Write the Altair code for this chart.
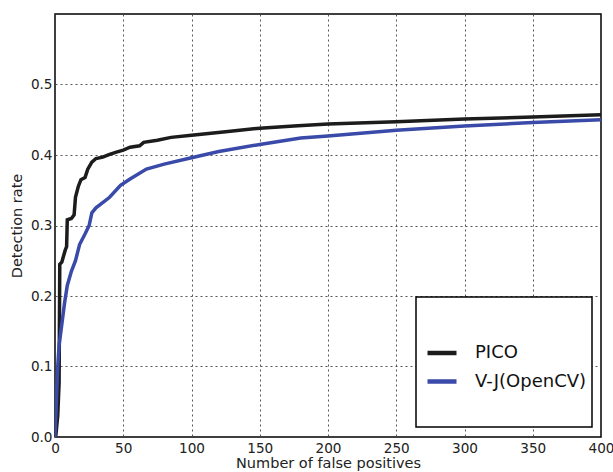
import altair as alt
import pandas as pd

# PICO curve
pico_fp = [0.5, 2, 3, 3.2, 3.5, 5, 6, 7.5, 8.5, 9, 12, 14, 15, 17, 19, 22, 24, 27, 30, 35,
           40, 45, 50, 55, 62, 65, 75, 85, 100, 125, 150, 175, 200, 250, 300, 350, 400]
pico_dr = [0.0, 0.03, 0.077, 0.15, 0.245, 0.248, 0.255, 0.265, 0.27, 0.308, 0.31, 0.315, 0.34,
           0.355, 0.365, 0.368, 0.38, 0.39, 0.395, 0.397, 0.401, 0.404, 0.407, 0.411, 0.413,
           0.418, 0.421, 0.425, 0.428, 0.433, 0.438, 0.441, 0.444, 0.447, 0.451, 0.454, 0.457]

# V-J (OpenCV) curve
vj_fp = [0, 1, 2, 3, 5, 7, 9, 12, 15, 18, 22, 25, 27, 30, 40, 48, 55, 67, 80, 100, 120,
         150, 180, 200, 250, 300, 350, 400]
vj_dr = [0.0, 0.05, 0.1, 0.13, 0.16, 0.19, 0.215, 0.235, 0.25, 0.273, 0.288, 0.3, 0.318,
         0.325, 0.34, 0.357, 0.366, 0.38, 0.387, 0.396, 0.405, 0.415, 0.424, 0.427, 0.435,
         0.441, 0.446, 0.45]

series_names = ["PICO", "V-J(OpenCV)"]
series_colors = ["#1c1c1c", "#3a4aa8"]

x_ticks = [0, 50, 100, 150, 200, 250, 300, 350, 400]
y_ticks = [0.0, 0.1, 0.2, 0.3, 0.4, 0.5]

df = pd.concat([
    pd.DataFrame({"fp": pico_fp, "dr": pico_dr, "method": series_names[0], "order": range(len(pico_fp))}),
    pd.DataFrame({"fp": vj_fp, "dr": vj_dr, "method": series_names[1], "order": range(len(vj_fp))}),
])

FONT = "DejaVu Sans"

lines = alt.Chart(df).mark_line(strokeWidth=3.5, clip=True).encode(
    x=alt.X("fp:Q", scale=alt.Scale(domain=[0, 400], nice=False),
            axis=alt.Axis(values=x_ticks, title="Number of false positives", labelFlush=False)),
    y=alt.Y("dr:Q", scale=alt.Scale(domain=[0, 0.6], nice=False),
            axis=alt.Axis(values=y_ticks, format=".1f", title="Detection rate")),
    color=alt.Color("method:N",
                    scale=alt.Scale(domain=series_names, range=series_colors),
                    legend=alt.Legend(orient="none", legendX=370, legendY=331, title=None,
                                      symbolType="stroke", symbolSize=841, symbolStrokeWidth=4.5,
                                      labelFontSize=18, labelFont=FONT, labelOffset=16,
                                      clipHeight=16, rowPadding=10.5, labelColor="#111")),
    order="order:Q",
)

box = alt.Chart(pd.DataFrame({"a": [0]})).mark_rect(
    fill="white", stroke="black", strokeWidth=1.5
).encode(
    x=alt.value(361), x2=alt.value(537), y=alt.value(283), y2=alt.value(413)
)

chart = alt.layer(box, lines).properties(
    width=546, height=423,
    autosize=alt.AutoSizeParams(type="none"),
    padding={"left": 55, "top": 14, "right": 12, "bottom": 35},
    background="white",
).configure_view(
    stroke="black", strokeWidth=1.5
).configure_axis(
    grid=True, gridColor="#444", gridDash=[2, 3], gridWidth=1, gridOpacity=0.9,
    ticks=False, domain=False,
    labelFont=FONT, labelFontSize=13.6, labelColor="#222", labelPadding=3,
    titleFont=FONT, titleFontSize=14.5, titleFontWeight="normal", titleColor="#222",
).configure_axisX(titlePadding=2, labelPadding=4).configure_axisY(titlePadding=6)

chart.save("out.html", embed_options={"renderer": "svg", "actions": False})
